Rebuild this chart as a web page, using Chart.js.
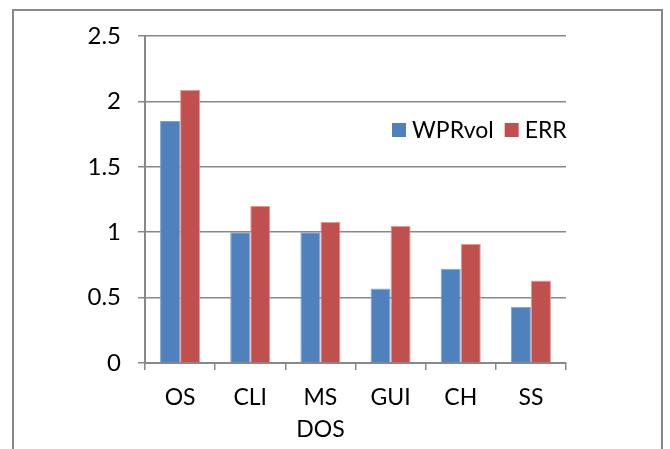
<!DOCTYPE html>
<html>
<head>
<meta charset="utf-8">
<script src="https://cdn.jsdelivr.net/npm/chart.js@4/dist/chart.umd.min.js"></script>
<style>
  html, body { margin: 0; padding: 0; background: #fff; overflow: hidden; }
  #wrap { position: relative; width: 670px; height: 449px; }
  #frame {
    position: absolute; left: 12px; top: 9px; width: 651px; height: 470px;
    border: 2px solid #888; box-sizing: border-box;
  }
  canvas { position: absolute; left: 0; top: 0; }
</style>
</head>
<body>
<div id="wrap">
  <div id="frame"></div>
  <canvas id="chart" width="670" height="449"></canvas>
</div>
<script>
const categories = ["OS", "CLI", ["MS", "DOS"], "GUI", "CH", "SS"];
const wprvol = [1.85, 1.0, 1.0, 0.57, 0.72, 0.43];
const err = [2.09, 1.2, 1.08, 1.05, 0.91, 0.63];
const yTicks = [0, 0.5, 1, 1.5, 2, 2.5];

const FONT = "Lato, 'Open Sans', sans-serif";
const GRID = "#888888";

// legend drawn inside the plot, right of center like the Excel original
const insideLegend = {
  id: "insideLegend",
  afterDraw(chart) {
    const ctx = chart.ctx;
    let x = 392;
    const y = 130;
    ctx.save();
    ctx.font = "23px " + FONT;
    ctx.textBaseline = "middle";
    chart.data.datasets.forEach((ds) => {
      ctx.fillStyle = ds.backgroundColor;
      ctx.fillRect(x, y - 7, 14, 14);
      x += 20;
      ctx.fillStyle = "#000";
      ctx.fillText(ds.label, x, y + 1);
      x += ctx.measureText(ds.label).width + 11;
    });
    ctx.restore();
  },
};

new Chart(document.getElementById("chart"), {
  type: "bar",
  data: {
    labels: categories,
    datasets: [
      {
        label: "WPRvol",
        data: wprvol,
        backgroundColor: "#4F81BD",
        borderColor: "#7FA3D1",
        borderWidth: 1,
      },
      {
        label: "ERR",
        data: err,
        backgroundColor: "#C0504D",
        borderColor: "#E29A98",
        borderWidth: 1,
      },
    ],
  },
  options: {
    responsive: false,
    animation: false,
    layout: { padding: { left: 0, top: 36, right: 104, bottom: 0 } },
    datasets: {
      bar: { categoryPercentage: 0.571, barPercentage: 1 },
    },
    plugins: {
      legend: { display: false },
      tooltip: { enabled: false },
    },
    scales: {
      x: {
        afterFit: (s) => { s.height = 86; },
        grid: {
          offset: true,
          drawOnChartArea: false,
          tickLength: 7,
          color: GRID,
          lineWidth: 1.5,
        },
        border: { color: GRID, width: 2 },
        ticks: {
          color: "#000",
          padding: 11,
          font: { family: FONT, size: 23, lineHeight: 1.4 },
        },
      },
      y: {
        min: 0,
        max: 2.5,
        afterFit: (s) => { s.width = 145; },
        afterBuildTicks: (s) => { s.ticks = yTicks.map((v) => ({ value: v })); },
        grid: { color: GRID, lineWidth: 1.5, tickLength: 7 },
        border: { color: GRID, width: 2 },
        ticks: {
          color: "#000",
          padding: 17,
          font: { family: FONT, size: 24 },
          callback: (v) => String(v),
        },
      },
    },
  },
  plugins: [insideLegend],
});
</script>
</body>
</html>
